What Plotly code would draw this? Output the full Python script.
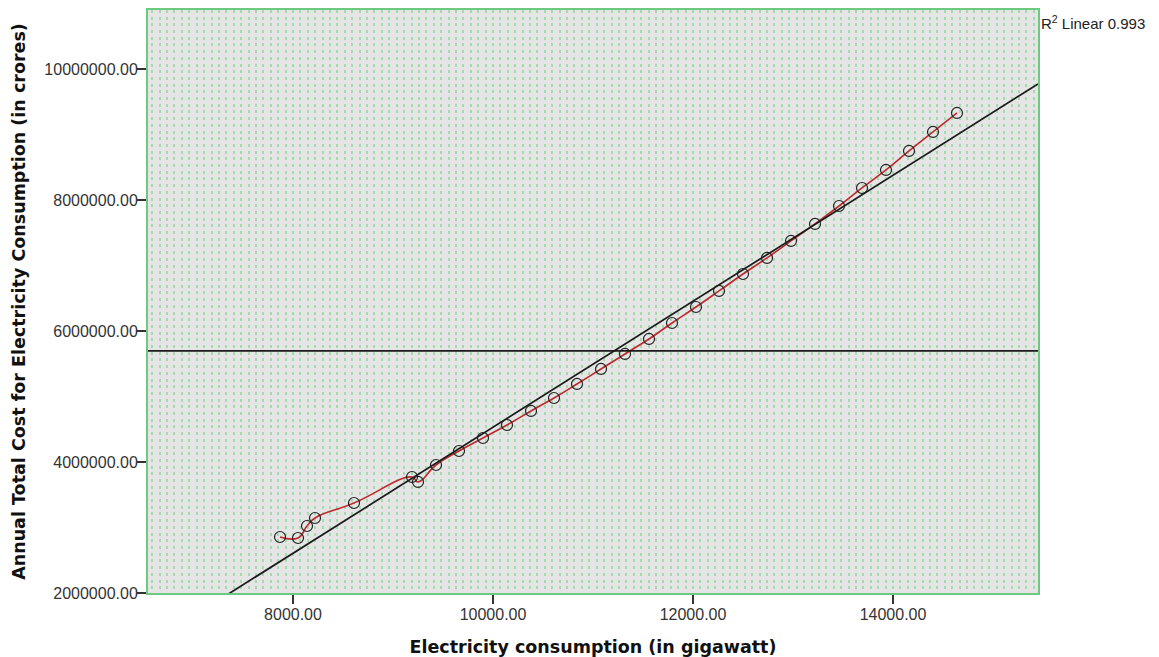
import plotly.graph_objects as go
import numpy as np

# Data
consumption_gw = [7870, 8050, 8140, 8220, 8610, 9190, 9250, 9430, 9660, 9900,
                  10140, 10380, 10610, 10840, 11080, 11320, 11560, 11790, 12030, 12260,
                  12500, 12740, 12980, 13220, 13460, 13690, 13930, 14160, 14400, 14640]
annual_cost = [2855000, 2840000, 3023000, 3145000, 3374000, 3771000, 3695000, 3954000, 4168000, 4366000,
               4565000, 4779000, 4977000, 5191000, 5420000, 5649000, 5878000, 6122000, 6366000, 6611000,
               6870000, 7115000, 7374000, 7634000, 7908000, 8183000, 8458000, 8748000, 9038000, 9328000]
mean_cost = 5695000
fit_slope = 961.8
fit_intercept = -5088466
r2_linear = 0.993

x_range = [6550, 15450]
y_range = [2000000, 10900000]
x_ticks = [8000, 10000, 12000, 14000]
y_ticks = [2000000, 4000000, 6000000, 8000000, 10000000]

FONT = "Liberation Sans, Arial, sans-serif"
TITLE_FONT = "DejaVu Sans, Verdana, sans-serif"
GREEN = "#6cc97f"
DOT_GREEN = "#a3dbad"

fig = go.Figure()

# Interpolation line through the points
fig.add_trace(go.Scatter(x=consumption_gw, y=annual_cost, mode="lines",
                         line=dict(color="#c0282d", width=1.6, shape="spline", smoothing=1.3),
                         hoverinfo="skip", showlegend=False))

# Linear fit line
fit_x = np.array(x_range, dtype=float)
fit_y = fit_slope * fit_x + fit_intercept
fig.add_trace(go.Scatter(x=fit_x, y=fit_y, mode="lines",
                         line=dict(color="#1a1a1a", width=1.7),
                         hoverinfo="skip", showlegend=False))

# Mean reference line
fig.add_trace(go.Scatter(x=x_range, y=[mean_cost, mean_cost], mode="lines",
                         line=dict(color="#1a1a1a", width=1.7),
                         hoverinfo="skip", showlegend=False))

# Points
fig.add_trace(go.Scatter(x=consumption_gw, y=annual_cost, mode="markers",
                         marker=dict(symbol="circle-open", size=11,
                                     line=dict(color="#222222", width=1.2), color="#222222"),
                         showlegend=False))

fig.add_annotation(xref="paper", yref="paper", x=1.0, y=1.0, xanchor="left", yanchor="top",
                   xshift=1, yshift=-1,
                   text=f"R<sup>2</sup> Linear {r2_linear:.3f}", showarrow=False,
                   font=dict(family=FONT, size=15, color="#222222"))

grid_step = 2000 / 27
grid_dash = "3px,3.7px"

# The page body adds an 8px offset, so the figure is sized to fit the window.
fig.update_layout(
    width=1151, height=649,
    margin=dict(l=140, r=121, t=2, b=64),
    paper_bgcolor="white",
    plot_bgcolor="#e5e5e5",
    font=dict(family=FONT, size=16, color="#333333"),
    xaxis=dict(range=x_range, tickvals=x_ticks, tickformat=".2f", automargin=False,
               ticks="outside", ticklen=9, tickcolor="#333333", tickwidth=1.5,
               ticklabelstandoff=-3,
               tickfont=dict(family=FONT, size=16, color="#333333"),
               showline=True, linecolor=GREEN, linewidth=2, mirror=True,
               showgrid=True, gridcolor=DOT_GREEN, gridwidth=2, griddash=grid_dash,
               minor=dict(dtick=grid_step, tick0=8000, showgrid=True, gridcolor=DOT_GREEN,
                          gridwidth=2, griddash=grid_dash, ticks=""),
               zeroline=False,
               title=dict(text="<b>Electricity consumption (in gigawatt)</b>",
                          font=dict(family=TITLE_FONT, size=17.5, color="#111111"), standoff=20)),
    yaxis=dict(range=y_range, tickvals=y_ticks, tickformat=".2f", automargin=False,
               ticks="outside", ticklen=9, tickcolor="#333333", tickwidth=1.5,
               ticklabelstandoff=-4,
               tickfont=dict(family=FONT, size=16, color="#333333"),
               showline=True, linecolor=GREEN, linewidth=2, mirror=True,
               showgrid=False, zeroline=False,
               title=dict(text="<b>Annual Total Cost for Electricity Consumption (in crores)</b>",
                          font=dict(family=TITLE_FONT, size=17.5, color="#111111"), standoff=14)),
)

fig.write_html("out.html")
